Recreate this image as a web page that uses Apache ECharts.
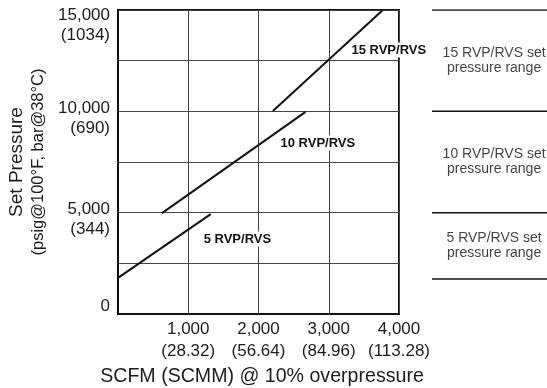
<!DOCTYPE html>
<html>
<head>
<meta charset="utf-8">
<script src="https://cdn.jsdelivr.net/npm/echarts@6/dist/echarts.min.js"></script>
<style>
html,body{margin:0;padding:0;background:#fff;}
#c{width:547px;height:388px;}
</style>
</head>
<body>
<div id="c"></div>
<script>
// ---- data ----
const xTickValues = [1000, 2000, 3000, 4000];
const xTickText = ['1,000', '2,000', '3,000', '4,000'];
const xTickMetric = ['(28.32)', '(56.64)', '(84.96)', '(113.28)'];
const yTickValues = [0, 5000, 10000, 15000];
const yTickText = ['0', '5,000', '10,000', '15,000'];
const yTickMetric = ['', '(344)', '(690)', '(1034)'];

const seriesNames = ['5 RVP/RVS', '10 RVP/RVS', '15 RVP/RVS'];
const rvp5 = [[0, 1780], [1320, 4930]];
const rvp10 = [[626, 4980], [2670, 9970]];
const rvp15 = [[2205, 10020], [3770, 15000]];

const rangeBounds = [15000, 10000, 5000, 1730];
const rangeNames = ['15 RVP/RVS set\npressure range', '10 RVP/RVS set\npressure range', '5 RVP/RVS set\npressure range'];

// ---- chart ----
const FONT = 'Liberation Sans, Arial, Helvetica, sans-serif';
const TXT = '#1c1c1c';
const chart = echarts.init(document.getElementById('c'), null, {renderer: 'canvas'});

const labelAnchors = [[1700, 3700], [2845, 8437], [3855, 13030]];
const lineData = [rvp5, rvp10, rvp15];

const series = [];
lineData.forEach((d, i) => {
  series.push({
    name: seriesNames[i],
    type: 'line',
    xAxisIndex: 0, yAxisIndex: 0,
    data: d,
    symbol: 'none',
    lineStyle: {color: '#111', width: 2},
    z: 3,
    markPoint: {
      symbol: 'rect', symbolSize: 0,
      data: [{coord: labelAnchors[i]}],
      label: {
        show: true, position: 'inside',
        formatter: () => seriesNames[i],
        color: '#111', fontFamily: FONT, fontWeight: 'bold', fontSize: 13,
        backgroundColor: '#fff', padding: [1, 2]
      },
      z: 5
    }
  });
});

rangeBounds.forEach((b) => {
  series.push({
    type: 'line', xAxisIndex: 1, yAxisIndex: 1,
    data: [[0, b], [1, b]],
    symbol: 'none', lineStyle: {color: '#111', width: 1.5}
  });
});

series.push({
  type: 'scatter', xAxisIndex: 1, yAxisIndex: 1,
  symbolSize: 0,
  data: rangeNames.map((n, i) => ({value: [0.54, (rangeBounds[i] + rangeBounds[i + 1]) / 2], name: n})),
  label: {
    show: true, position: 'inside',
    formatter: (p) => p.name,
    color: '#111', fontFamily: FONT, fontSize: 14, lineHeight: 15, align: 'center'
  }
});

chart.setOption({
  animation: false,
  backgroundColor: '#fff',
  grid: [
    {left: 118, top: 10, width: 281, height: 304, show: true, borderColor: '#111', borderWidth: 2,
     backgroundColor: 'transparent', containLabel: false, outerBoundsMode: 'none'},
    {left: 432, top: 10, right: 0, height: 304, containLabel: false, outerBoundsMode: 'none'}
  ],
  xAxis: [
    {
      type: 'value', gridIndex: 0, min: 0, max: 4000, interval: 1000,
      name: 'SCFM (SCMM) @ 10% overpressure', nameLocation: 'middle', nameGap: 51,
      nameTextStyle: {fontFamily: FONT, fontSize: 19.6, color: TXT, padding: [0, 0, 0, 7]},
      axisLine: {show: true, lineStyle: {color: '#111', width: 2}},
      axisTick: {show: false},
      splitLine: {show: true, lineStyle: {color: '#444', width: 1}},
      axisLabel: {
        margin: 4, fontFamily: FONT, fontSize: 17, lineHeight: 22, color: TXT,
        showMinLabel: true, showMaxLabel: true,
        formatter: (v) => {
          const i = xTickValues.indexOf(v);
          return i < 0 ? '' : xTickText[i] + '\n' + xTickMetric[i];
        }
      }
    },
    {type: 'value', gridIndex: 1, min: 0, max: 1, show: false}
  ],
  yAxis: [
    {
      type: 'value', gridIndex: 0, min: 0, max: 15000, interval: 2500,
      name: '{a|Set Pressure}\n{b|(psig@100°F, bar@38°C)}', nameLocation: 'middle', nameGap: 69, nameRotate: 90,
      nameTextStyle: {
        fontFamily: FONT, color: TXT, align: 'center',
        rich: {
          a: {fontFamily: FONT, fontSize: 19, lineHeight: 24, color: TXT},
          b: {fontFamily: FONT, fontSize: 16.5, lineHeight: 20, color: TXT}
        }
      },
      axisLine: {show: true, lineStyle: {color: '#111', width: 2}},
      axisTick: {show: false},
      splitLine: {show: true, lineStyle: {color: '#444', width: 1}},
      axisLabel: {
        margin: 8, fontFamily: FONT, fontSize: 17, lineHeight: 20, color: TXT,
        verticalAlign: 'middle', padding: [13, 0, 0, 0],
        showMinLabel: true, showMaxLabel: true,
        rich: {
          s: {fontSize: 1, lineHeight: 18},
          z: {fontSize: 1, lineHeight: 28}
        },
        formatter: (v) => {
          const i = yTickValues.indexOf(v);
          if (i < 0) return '';
          if (i === 0) return yTickText[i] + '\n{z| }';
          if (i === yTickValues.length - 1) return '{s| }\n' + yTickText[i] + '\n' + yTickMetric[i];
          return yTickText[i] + '\n' + yTickMetric[i];
        }
      }
    },
    {type: 'value', gridIndex: 1, min: 0, max: 15000, show: false}
  ],
  series: series
});
</script>
</body>
</html>
